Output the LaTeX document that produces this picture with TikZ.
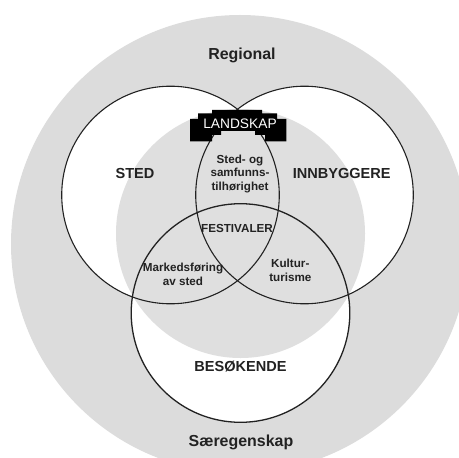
\documentclass[tikz,border=0pt]{standalone}
\usepackage{fontspec}
\setmainfont{Liberation Sans}
\definecolor{outergray}{HTML}{DCDCDC}
\definecolor{innergray}{HTML}{DFDFDF}
\definecolor{inkgray}{HTML}{222222}
\tikzset{
  ring/.style={draw=inkgray,line width=1.1bp},
  bigtext/.style={font=\fontsize{16}{18}\selectfont\bfseries,text=inkgray,inner sep=0pt},
  maintext/.style={font=\fontsize{14.6}{17}\selectfont\bfseries,text=inkgray,inner sep=0pt},
  smalltext/.style={font=\fontsize{11.7}{14}\selectfont\bfseries,text=inkgray,inner sep=0pt,align=center}
}
\begin{document}
\begin{tikzpicture}[x=1bp,y=-1bp]
\useasboundingbox (0,0) rectangle (459,458);
\begin{scope}
  \clip (0,0) rectangle (459,458);
  \fill[outergray] (240,244) circle[radius=229];
  \fill[white] (170.5,195) circle[radius=108.8];
  \fill[white] (304.5,195) circle[radius=108.8];
  \fill[white] (240.5,313) circle[radius=109.3];
  \fill[innergray] (240.5,233.5) circle[radius=124.5];
\end{scope}
\draw[ring] (170.5,195) circle[radius=108.8];
\draw[ring] (304.5,195) circle[radius=108.8];
\draw[ring,line width=1.3bp] (240.5,313) circle[radius=109.3];
\fill[black] (212,110) -- (262,110) -- (262,113.5) -- (277,113.5) -- (277,119) -- (286.3,119) -- (286.3,141.5)
  -- (265,141.5) -- (265,135) -- (255,135) -- (255,131) -- (221,131) -- (221,135) -- (212,135) -- (212,141.5)
  -- (190,141.5) -- (190,119) -- (198,119) -- (198,113.5) -- (212,113.5) -- cycle;
\node[text=white,font=\fontsize{13.8}{16}\selectfont,inner sep=0pt] (landskap) at (240,123.5) {LANDSKAP};
\node[bigtext] (regional) at (242,55.5) {Regional};
\node[bigtext] (saeregenskap) at (241,442.5) {Særegenskap};
\node[maintext] (sted) at (135,173) {STED};
\node[maintext] (innbyggere) at (341.7,173) {INNBYGGERE};
\node[maintext] (besokende) at (240.5,367) {BESØKENDE};
\node[smalltext] (tilhorighet) at (240,174) {Sted- og\\samfunns-\\tilhørighet};
\node[smalltext] (festivaler) at (237,228) {FESTIVALER};
\node[smalltext] (markedsforing) at (183,274) {Markedsføring\\av sted};
\node[smalltext] (kulturturisme) at (290.3,270) {Kultur-\\turisme};
\end{tikzpicture}
\end{document}
